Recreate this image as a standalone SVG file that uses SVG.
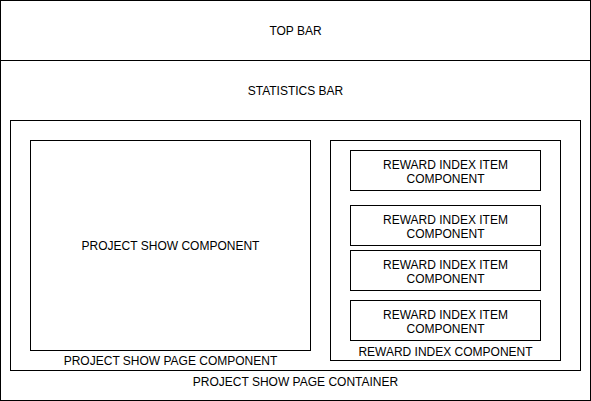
<svg xmlns="http://www.w3.org/2000/svg" width="591" height="401" viewBox="0 0 591 401">
  <style>
    .box { fill: #ffffff; stroke: #000000; stroke-width: 1; }
    .lbl { font-family: "Liberation Sans", Arial, Helvetica, sans-serif; font-size: 12px; fill: #000000; text-anchor: middle; }
  </style>
  <rect x="0" y="0" width="591" height="401" fill="#ffffff"/>

  <!-- page frame with top bar and statistics bar -->
  <g id="page">
    <rect class="box" x="0.5" y="0.5" width="590" height="400"/>
  </g>
  <g id="top-bar">
    <rect class="box" x="0.5" y="0.5" width="590" height="60"/>
    <text class="lbl" x="295.5" y="34.5">TOP BAR</text>
  </g>
  <g id="statistics-bar">
    <text class="lbl" x="295.5" y="94.5">STATISTICS BAR</text>
  </g>

  <g id="project-show-page-container">
    <rect class="box" x="10.5" y="120.5" width="570" height="250"/>
    <text class="lbl" x="295.5" y="385.5">PROJECT SHOW PAGE CONTAINER</text>
  </g>

  <g id="project-show-page-component">
    <rect class="box" x="30.5" y="140.5" width="280" height="210"/>
    <text class="lbl" x="170.5" y="249.5">PROJECT SHOW COMPONENT</text>
    <text class="lbl" x="170.5" y="364.5">PROJECT SHOW PAGE COMPONENT</text>
  </g>

  <g id="reward-index-component">
    <rect class="box" x="330.5" y="140.5" width="230" height="220"/>
    <text class="lbl" x="445.5" y="355.5">REWARD INDEX COMPONENT</text>
  </g>

  <g id="reward-item-1">
    <rect class="box" x="350.5" y="150.5" width="190" height="40"/>
    <text class="lbl" x="445.5" y="168.5">REWARD INDEX ITEM</text>
    <text class="lbl" x="445.5" y="182.5">COMPONENT</text>
  </g>
  <g id="reward-item-2">
    <rect class="box" x="350.5" y="205.5" width="190" height="40"/>
    <text class="lbl" x="445.5" y="223.5">REWARD INDEX ITEM</text>
    <text class="lbl" x="445.5" y="237.5">COMPONENT</text>
  </g>
  <g id="reward-item-3">
    <rect class="box" x="350.5" y="250.5" width="190" height="40"/>
    <text class="lbl" x="445.5" y="268.5">REWARD INDEX ITEM</text>
    <text class="lbl" x="445.5" y="282.5">COMPONENT</text>
  </g>
  <g id="reward-item-4">
    <rect class="box" x="350.5" y="300.5" width="190" height="40"/>
    <text class="lbl" x="445.5" y="318.5">REWARD INDEX ITEM</text>
    <text class="lbl" x="445.5" y="332.5">COMPONENT</text>
  </g>

  <g id="connectors"></g>
</svg>
